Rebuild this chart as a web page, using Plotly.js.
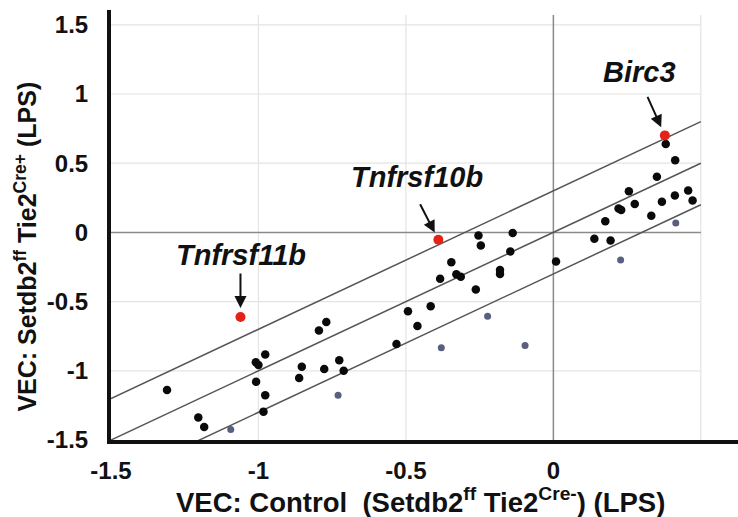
<!DOCTYPE html>
<html>
<head>
<meta charset="utf-8">
<script src="https://cdn.plot.ly/plotly-3.0.1.min.js"></script>
<style>html,body{margin:0;padding:0;background:#fff;}#chart{width:738px;height:517px;}</style>
</head>
<body>
<div id="chart"></div>
<script>
// Black points (genes)
const blackX = [-0.770,-0.795,-0.977,-1.009,-1.000,-0.853,-0.777,-0.862,-1.008,-1.310,-0.977,-0.983,-1.204,-1.184,
  -0.416,-0.493,-0.461,-0.532,-0.726,-0.711,
  -0.254,-0.246,-0.138,-0.146,0.009,-0.346,-0.329,-0.314,-0.384,-0.181,-0.181,-0.263,
  0.381,0.413,0.351,0.256,0.457,0.472,0.412,0.368,0.276,0.221,0.230,0.332,0.176,0.139,0.194];
const blackY = [-0.647,-0.708,-0.882,-0.938,-0.958,-0.970,-0.987,-1.052,-1.079,-1.139,-1.176,-1.295,-1.338,-1.406,
  -0.533,-0.570,-0.676,-0.807,-0.924,-0.999,
  -0.022,-0.095,-0.005,-0.138,-0.211,-0.216,-0.303,-0.320,-0.335,-0.272,-0.301,-0.412,
  0.638,0.521,0.402,0.298,0.303,0.230,0.267,0.221,0.206,0.172,0.162,0.121,0.080,-0.046,-0.058];
// Grey-blue points
const greyX = [-1.094,-0.380,-0.730,-0.223,-0.096,0.415,0.228];
const greyY = [-1.425,-0.834,-1.176,-0.606,-0.817,0.068,-0.199];
// Highlighted genes
const hiNames = ['Tnfrsf11b','Tnfrsf10b','Birc3'];
const hiX = [-1.061,-0.390,0.378];
const hiY = [-0.611,-0.053,0.701];
// Threshold lines
const lineX = [-1.5, 0.5];
const upperY = [-1.2, 0.8];
const midY = [-1.5, 0.5];
const lowerY = [-1.8, 0.2];
// Ticks
const xTickVals = [-1.5,-1,-0.5,0];
const yTickVals = [-1.5,-1,-0.5,0,0.5,1,1.5];
const xGrid = [-1,-0.5,0.5];
const yGrid = [-1,-0.5,0.5,1,1.5];

const lineStyle = {color:'#555', width:1.5};
const traces = [
  {x:lineX, y:upperY, mode:'lines', line:lineStyle, hoverinfo:'skip'},
  {x:lineX, y:midY, mode:'lines', line:lineStyle, hoverinfo:'skip'},
  {x:lineX, y:lowerY, mode:'lines', line:lineStyle, hoverinfo:'skip'},
  {x:greyX, y:greyY, mode:'markers', marker:{color:'#5a5f80', size:7}},
  {x:blackX, y:blackY, mode:'markers', marker:{color:'#0a0a0a', size:8.5}},
  {x:hiX, y:hiY, mode:'markers', marker:{color:'#e62117', size:10}}
];

const shapes = [];
xGrid.forEach(v => shapes.push({type:'line', xref:'x', yref:'y', x0:v, x1:v, y0:-1.5, y1:1.57, line:{color:'#e4e4e4', width:1.2}, layer:'below'}));
yGrid.forEach(v => shapes.push({type:'line', xref:'x', yref:'y', x0:-1.5, x1:0.5, y0:v, y1:v, line:{color:'#e4e4e4', width:1.2}, layer:'below'}));
shapes.push({type:'line', xref:'x', yref:'y', x0:0, x1:0, y0:-1.5, y1:1.57, line:{color:'#8a8a8a', width:1.5}, layer:'below'});
shapes.push({type:'line', xref:'x', yref:'y', x0:-1.5, x1:0.5, y0:0, y1:0, line:{color:'#8a8a8a', width:1.5}, layer:'below'});

const annFont = {family:'Liberation Sans, Arial, sans-serif', size:29, color:'#111'};
const textShift = [[1,62],[-21,63],[-25,63]];
const arrowOff = [[0,-45,9],[-19,-37,8],[-18,-40,9]];
const annotations = [];
hiNames.forEach((n,i) => {
  annotations.push({x:hiX[i], y:hiY[i], xref:'x', yref:'y', text:'<b><i>'+n+'</i></b>', showarrow:false,
    xshift:textShift[i][0], yshift:textShift[i][1], font:annFont});
  annotations.push({x:hiX[i], y:hiY[i], xref:'x', yref:'y', text:'', showarrow:true, arrowhead:2, arrowsize:1.2, arrowwidth:2,
    arrowcolor:'#111', ax:arrowOff[i][0], ay:arrowOff[i][1], standoff:arrowOff[i][2]});
});
annotations.push({xref:'paper', yref:'paper', x:0.493, y:-0.14, text:'<b>VEC: Control  (Setdb2<sup>ff</sup> Tie2<sup>Cre-</sup>) (LPS)</b>', showarrow:false,
  font:{family:'Liberation Sans, Arial, sans-serif', size:27.5, color:'#111'}, xanchor:'center', yanchor:'middle'});
annotations.push({xref:'paper', yref:'paper', x:-0.137, y:0.45, text:'<b>VEC: Setdb2<sup>ff</sup> Tie2<sup>Cre+</sup> (LPS)</b>', showarrow:false,
  font:{family:'Liberation Sans, Arial, sans-serif', size:25, color:'#111'}, textangle:-90, xanchor:'center', yanchor:'middle'});

const layout = {
  width:738, height:517,
  margin:{l:111, r:0, t:10, b:77},
  showlegend:false,
  paper_bgcolor:'#fff', plot_bgcolor:'#fff',
  font:{family:'Liberation Sans, Arial, sans-serif', color:'#111'},
  xaxis:{range:[-1.5,0.626], tickvals:xTickVals, ticktext:xTickVals.map(String), showgrid:false, zeroline:false,
    showline:true, linecolor:'#111', linewidth:4, ticks:'', tickfont:{size:24, weight:'bold', color:'#111'}, ticklabelstandoff:6},
  yaxis:{range:[-1.5,1.607], tickvals:yTickVals, ticktext:yTickVals.map(String), showgrid:false, zeroline:false,
    showline:true, linecolor:'#111', linewidth:4, ticks:'', tickfont:{size:24, weight:'bold', color:'#111'}, ticklabelstandoff:14},
  shapes:shapes,
  annotations:annotations
};
Plotly.newPlot('chart', traces, layout, {staticPlot:true, displayModeBar:false});
</script>
</body>
</html>
